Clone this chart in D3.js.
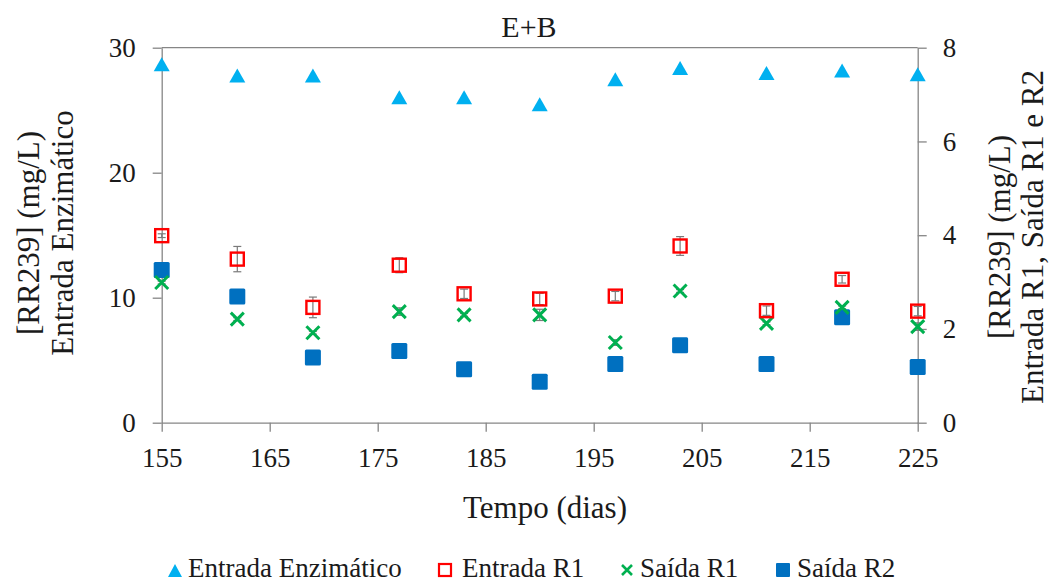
<!DOCTYPE html>
<html><head><meta charset="utf-8">
<script src="https://cdn.jsdelivr.net/npm/d3@7"></script>
<style>body{margin:0;background:#fff}svg{display:block}</style>
</head><body>
<script>
const days = [155,162,169,177,183,190,197,203,211,218,225];
const entradaEnz = [28.6,27.7,27.7,25.95,25.95,25.4,27.4,28.3,27.9,28.1,27.8];
const entradaR1 = [3.99,3.49,2.46,3.36,2.75,2.64,2.70,3.77,2.39,3.06,2.38];
const entradaR1Err = [0.04,0.27,0.22,0.16,0.1,0.12,0.1,0.2,0.1,0.08,0.1];
const saidaR1 = [2.99,2.21,1.92,2.37,2.30,2.30,1.71,2.81,2.12,2.46,2.05];
const saidaR1Err = [0.03,0.03,0.03,0.08,0.03,0.12,0.06,0.03,0.03,0.03,0.08];
const saidaR2 = [3.26,2.69,1.39,1.53,1.14,0.875,1.25,1.65,1.25,2.25,1.19];
const xTicks = [155,165,175,185,195,205,215,225];
const yLeftTicks = [0,10,20,30];
const yRightTicks = [0,2,4,6,8];
const seriesNames = ["Entrada Enzimático","Entrada R1","Saída R1","Saída R2"];

const W=1052,H=583;
const L=161.7,R=917.7,T=47.7,B=422.7;
const axisCol="#868686";
const FONT="'Liberation Serif','Times New Roman',serif";
const cTri="#00B0F0",cRed="#FF0000",cGreen="#00B050",cBlue="#0070C0";

const svg=d3.select("body").append("svg").attr("width",W).attr("height",H);
const x=d3.scaleLinear().domain([155,225]).range([L,R]);
const yL=d3.scaleLinear().domain([0,30]).range([B,T]);
const yR=d3.scaleLinear().domain([0,8]).range([B,T]);

function styleAxis(g){
  g.attr("font-family",null).attr("font-size",null);
  g.select(".domain").attr("stroke",axisCol).attr("stroke-width",1.3);
  g.selectAll(".tick line").attr("stroke",axisCol).attr("stroke-width",1.3);
  g.selectAll("text").style("font-size","27px");
}
svg.append("line").attr("x1",L).attr("x2",R).attr("y1",T).attr("y2",T).attr("stroke",axisCol).attr("stroke-width",1.3);

const gx=svg.append("g").attr("transform",`translate(0,${B})`)
  .call(d3.axisBottom(x).tickValues(xTicks).tickSize(9).tickSizeOuter(0).tickPadding(16));
styleAxis(gx);
const gl=svg.append("g").attr("transform",`translate(${L},0)`)
  .call(d3.axisLeft(yL).tickValues(yLeftTicks).tickSize(9).tickSizeOuter(0).tickPadding(17));
styleAxis(gl);
const gr=svg.append("g").attr("transform",`translate(${R},0)`)
  .call(d3.axisRight(yR).tickValues(yRightTicks).tickSize(9).tickSizeOuter(0).tickPadding(16));
styleAxis(gr);

svg.append("text").attr("x",529).attr("y",37).attr("text-anchor","middle").style("font-size","30px").text("E+B");
svg.append("text").attr("x",545).attr("y",518).attr("text-anchor","middle").style("font-size","31px").text("Tempo (dias)");
const lt=svg.append("text").attr("transform","translate(0,233) rotate(-90)").attr("text-anchor","middle").style("font-size","31px");
lt.append("tspan").attr("x",0).attr("y",39).text("[RR239] (mg/L)");
lt.append("tspan").attr("x",0).attr("y",73).text("Entrada Enzimático");
const rt=svg.append("text").attr("transform","translate(0,237) rotate(-90)").attr("text-anchor","middle").style("font-size","31px");
rt.append("tspan").attr("x",0).attr("y",1010).text("[RR239] (mg/L)");
rt.append("tspan").attr("x",0).attr("y",1043).text("Entrada R1, Saída R1 e R2");

const triPath="M0,-8L8,6L-8,6Z";
const xPath="M-6.5,-6.5L6.5,6.5M-6.5,6.5L6.5,-6.5";

function errBars(vals,errs){
  const g=svg.append("g").attr("stroke","#7a7a7a").attr("stroke-width",1.2);
  days.forEach((d,i)=>{
    const cx=x(d),y1=yR(vals[i]-errs[i]),y2=yR(vals[i]+errs[i]);
    g.append("line").attr("x1",cx).attr("x2",cx).attr("y1",y1).attr("y2",y2);
    g.append("line").attr("x1",cx-4).attr("x2",cx+4).attr("y1",y1).attr("y2",y1);
    g.append("line").attr("x1",cx-4).attr("x2",cx+4).attr("y1",y2).attr("y2",y2);
  });
}
svg.append("g").selectAll("rect").data(days).join("rect")
  .attr("x",(d)=>x(d)-8).attr("y",(d,i)=>yR(saidaR2[i])-8).attr("width",16).attr("height",16)
  .attr("rx",1.5).attr("fill",cBlue);
errBars(saidaR1,saidaR1Err);
svg.append("g").selectAll("path").data(days).join("path")
  .attr("transform",(d,i)=>`translate(${x(d)},${yR(saidaR1[i])})`).attr("d",xPath)
  .attr("stroke",cGreen).attr("stroke-width",3).attr("fill","none");
errBars(entradaR1,entradaR1Err);
svg.append("g").selectAll("rect").data(days).join("rect")
  .attr("x",(d)=>x(d)-6.5).attr("y",(d,i)=>yR(entradaR1[i])-6.5).attr("width",13).attr("height",13)
  .attr("fill","none").attr("stroke",cRed).attr("stroke-width",2.4);
svg.append("g").selectAll("path").data(days).join("path")
  .attr("transform",(d,i)=>`translate(${x(d)},${yL(entradaEnz[i])})`).attr("d",triPath).attr("fill",cTri);

const leg=[
  {name:seriesNames[0],mx:175,tx:188,type:"tri"},
  {name:seriesNames[1],mx:445,tx:462,type:"sq"},
  {name:seriesNames[2],mx:627,tx:640,type:"x"},
  {name:seriesNames[3],mx:783,tx:797,type:"fsq"}
];
const ly=570, lb=577;
leg.forEach(l=>{
  if(l.type==="tri") svg.append("path").attr("transform",`translate(${l.mx},${ly+1})`).attr("d","M0,-7L7,6L-7,6Z").attr("fill",cTri);
  if(l.type==="sq") svg.append("rect").attr("x",l.mx-6).attr("y",ly-6).attr("width",12).attr("height",12).attr("fill","none").attr("stroke",cRed).attr("stroke-width",2.2);
  if(l.type==="x") svg.append("path").attr("transform",`translate(${l.mx},${ly})`).attr("d","M-5,-5L5,5M-5,5L5,-5").attr("stroke",cGreen).attr("stroke-width",2.6);
  if(l.type==="fsq") svg.append("rect").attr("x",l.mx-7).attr("y",ly-7).attr("width",14).attr("height",14).attr("rx",1).attr("fill",cBlue);
  svg.append("text").attr("x",l.tx).attr("y",lb).style("font-size","27px").text(l.name);
});
svg.selectAll("text").style("font-family",FONT).attr("fill","#1a1a1a");
</script>
</body></html>
